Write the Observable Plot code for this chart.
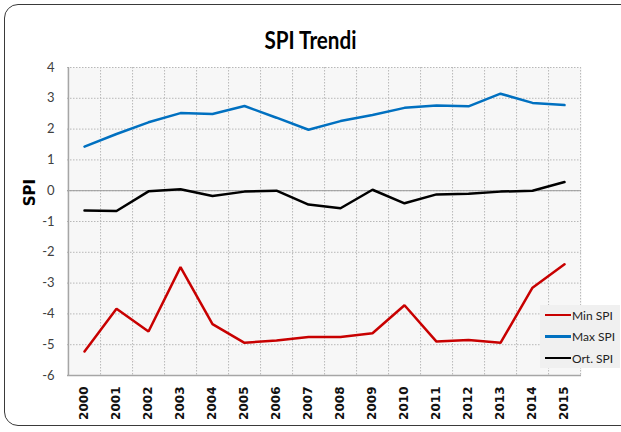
<!DOCTYPE html>
<html>
<head>
<meta charset="utf-8">
<script src="https://cdn.jsdelivr.net/npm/d3@7"></script>
<script src="https://cdn.jsdelivr.net/npm/@observablehq/plot@0.6"></script>
<style>
  html, body { margin: 0; padding: 0; background: #fff; overflow: hidden; }
  #wrap { position: relative; width: 621px; height: 432px; overflow: hidden; }
  #border { position: absolute; left: 4px; top: 4px; width: 640px; height: 422px;
    border: 1.5px solid #3a3a3a; border-radius: 14px; box-sizing: border-box; }
  #title { position: absolute; left: 0; top: 28px; width: 621px; text-align: center; line-height: 24px; }
  #title span { display: inline-block; transform: scaleX(0.86); font-family: Lato, sans-serif;
    font-weight: bold; font-size: 24px; color: #000; }
  #chart { position: absolute; left: 0; top: 0; }
  #legend { position: absolute; left: 540px; top: 305px; width: 80px; height: 63px; background: #f0f0f0;
    font-family: Lato, sans-serif; font-size: 12px; color: #222; }
  .row { position: absolute; left: 5px; height: 14px; display: flex; align-items: center; }
  .sw { width: 26px; height: 2.5px; margin-right: 1px; }
</style>
</head>
<body>
<div id="wrap">
  <div id="chart"></div>
  <div id="border"></div>
  <div id="title"><span></span></div>
  <div id="legend"></div>
</div>
<script>
const titleText = "SPI Trendi";
const yLabel = "SPI";
const years = ["2000","2001","2002","2003","2004","2005","2006","2007","2008","2009","2010","2011","2012","2013","2014","2015"];
const minSPI = [-5.22, -3.83, -4.57, -2.48, -4.33, -4.94, -4.86, -4.75, -4.75, -4.63, -3.72, -4.90, -4.85, -4.94, -3.15, -2.39];
const maxSPI = [1.43, 1.84, 2.22, 2.52, 2.49, 2.75, 2.37, 1.98, 2.26, 2.46, 2.69, 2.77, 2.74, 3.15, 2.85, 2.78];
const ortSPI = [-0.64, -0.66, -0.02, 0.05, -0.17, -0.03, 0.00, -0.45, -0.57, 0.03, -0.41, -0.12, -0.10, -0.03, 0.00, 0.28];
const seriesNames = ["Min SPI", "Max SPI", "Ort. SPI"];
const seriesColors = ["#c80000", "#0070c0", "#000000"];
const yTicks = [-6, -5, -4, -3, -2, -1, 0, 1, 2, 3, 4];

const seriesValues = [minSPI, maxSPI, ortSPI];
const data = [];
seriesNames.forEach((s, k) => years.forEach((yr, i) => data.push({series: s, year: yr, value: seriesValues[k][i]})));

const W = 621, H = 432, mL = 67, mR = 40, mT = 67, mB = 57;
const step = (W - mL - mR) / years.length;

const chart = Plot.plot({
  width: W, height: H,
  marginLeft: mL, marginRight: mR, marginTop: mT, marginBottom: mB,
  style: {background: "transparent"},
  x: {type: "point", domain: years, padding: 0.5},
  y: {domain: [yTicks[0], yTicks[yTicks.length - 1]]},
  color: {domain: seriesNames, range: seriesColors},
  marks: [
    Plot.frame({fill: "#f7f7f7", stroke: null}),
    Plot.gridY(yTicks, {stroke: "#b8b8b8", strokeOpacity: 1, strokeDasharray: "1.5,1.5"}),
    Plot.ruleX(years, {x: d => d, dx: step / 2, stroke: "#b8b8b8", strokeDasharray: "1.5,1.5"}),
    Plot.ruleY([0], {stroke: "#9a9a9a", strokeWidth: 1}),
    Plot.ruleY([yTicks[0]], {stroke: "#a6a6a6", strokeWidth: 1.5}),
    Plot.ruleX([years[0]], {dx: -step / 2, stroke: "#a6a6a6", strokeWidth: 1.5}),
    Plot.line(data, {x: "year", y: "value", z: "series", stroke: "series", strokeWidth: 2.5, strokeLinejoin: "miter"}),
    Plot.axisY(yTicks, {tickSize: 0, tickPadding: 13, tickFormat: d => String(d), fontSize: 13,
      fontFamily: "Lato, sans-serif", fill: "#404040", label: null}),
    Plot.axisX({tickSize: 0, tickPadding: 11, tickRotate: -90, fontSize: 12, fontWeight: "bold",
      fontFamily: "DejaVu Sans, sans-serif", fill: "#111", label: null}),
    Plot.text([yLabel], {text: d => d, frameAnchor: "left", textAnchor: "middle", rotate: -90, dx: -37, dy: -29,
      fontSize: 15, fontWeight: "bold", fontFamily: "DejaVu Sans, sans-serif", fill: "#000"})
  ]
});
document.getElementById("chart").appendChild(chart);
document.querySelector("#title span").textContent = titleText;

const legend = document.getElementById("legend");
seriesNames.forEach((s, k) => {
  const row = document.createElement("div");
  row.className = "row";
  row.style.top = (3 + k * 21.5) + "px";
  const sw = document.createElement("div");
  sw.className = "sw";
  sw.style.background = seriesColors[k];
  const tx = document.createElement("span");
  tx.textContent = s;
  row.appendChild(sw); row.appendChild(tx);
  legend.appendChild(row);
});
</script>
</body>
</html>
